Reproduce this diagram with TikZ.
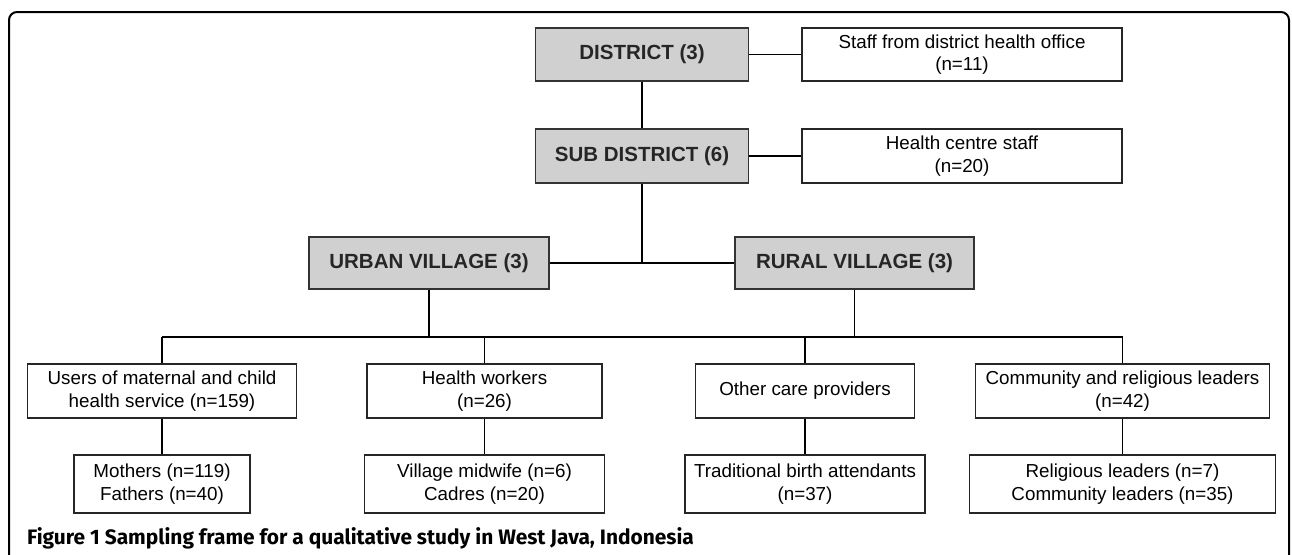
\documentclass[tikz,border=0pt]{standalone}
\usepackage{fontspec}
\setmainfont{Liberation Sans}
\newfontfamily\captionfont{Fira Sans}
\usepackage{tikz}
\usetikzlibrary{positioning}
\definecolor{levelgrey}{RGB}{208,208,208}

\begin{document}
\begin{tikzpicture}
	[x=1pt, y=-1pt, inner sep=0pt,
	level/.style	= {rectangle, draw=black!80, fill=levelgrey, line width=1.4pt, minimum height=53pt, font=\fontsize{20.5}{24}\selectfont\bfseries, text=black!85},
	group/.style	= {rectangle, draw=black!85, fill=white, line width=1.4pt, minimum height=54pt, align=center, font=\fontsize{18.8}{22.5}\selectfont},
	links/.style	= {draw, line width=1.3pt},
	frame/.style	= {draw, line width=2pt, rounded corners=8pt}]

	\useasboundingbox (0,0) rectangle (1292,554);
	\draw [frame] (9,560) -- (9,12) -- (1289,12) -- (1289,560);

	\node at (642, 54.5)	[level, minimum width=213pt]	(district)	{DISTRICT (3)};
	\node at (962, 54.5)	[group, minimum width=320pt, minimum height=53pt]	(dho)	{Staff from district health office\\(n=11)};
	\node at (642, 156)		[level, minimum width=213pt, minimum height=54pt]	(subdistrict)	{SUB DISTRICT (6)};
	\node at (962, 156)		[group, minimum width=320pt]	(hcs)	{Health centre staff\\(n=20)};

	\node at (429, 263)		[level, minimum width=240pt, minimum height=52pt]	(urban)	{URBAN VILLAGE (3)};
	\node at (854.5, 263)	[level, minimum width=239pt, minimum height=52pt]	(rural)	{RURAL VILLAGE (3)};

	\node at (162, 391)		[group, minimum width=269pt]	(users)		{Users of maternal and child\\health service (n=159)};
	\node at (484.5, 391)	[group, minimum width=235pt]	(workers)	{Health workers\\(n=26)};
	\node at (805, 391)		[group, minimum width=219pt]	(others)	{Other care providers};
	\node at (1122.5, 391)	[group, minimum width=294pt]	(leaders)	{Community and religious leaders\\(n=42)};

	\node at (162, 484)		[group, minimum width=176pt, minimum height=58pt]	(parents)	{Mothers (n=119)\\Fathers (n=40)};
	\node at (484.5, 484)	[group, minimum width=240pt, minimum height=58pt]	(midwife)	{Village midwife (n=6)\\Cadres (n=20)};
	\node at (805, 484)		[group, minimum width=240pt, minimum height=58pt]	(tba)		{Traditional birth attendants\\(n=37)};
	\node at (1122.5, 484)	[group, minimum width=306pt, minimum height=58pt]	(religious)	{Religious leaders (n=7)\\Community leaders (n=35)};

	\node at (27, 538)		[anchor=west, font=\captionfont\fontsize{20.9}{24}\selectfont\bfseries]	(caption)	{Figure 1 Sampling frame for a qualitative study in West Java, Indonesia};

	\coordinate (busw) at (162, 337);
	\coordinate (buse) at (1122.5, 337);

	\draw [links] (district.east) -- (dho.west);
	\draw [links] (subdistrict.east) -- (hcs.west);
	\draw [links] (district) -- (subdistrict);
	\draw [links] (subdistrict.south) -- (subdistrict.south |- urban.east);
	\draw [links] (urban.east) -- (rural.west);

	\draw [links] (urban.south) -- (urban.south |- busw);
	\draw [links] (rural.south) -- (rural.south |- busw);
	\draw [links] (busw) -- (buse);
	\draw [links] (users.north) -- (users.north |- busw);
	\draw [links] (workers.north) -- (workers.north |- busw);
	\draw [links] (others.north) -- (others.north |- busw);
	\draw [links] (leaders.north) -- (leaders.north |- busw);

	\draw [links] (users) -- (parents);
	\draw [links] (workers) -- (midwife);
	\draw [links] (others) -- (tba);
	\draw [links] (leaders) -- (religious);
\end{tikzpicture}
\end{document}
